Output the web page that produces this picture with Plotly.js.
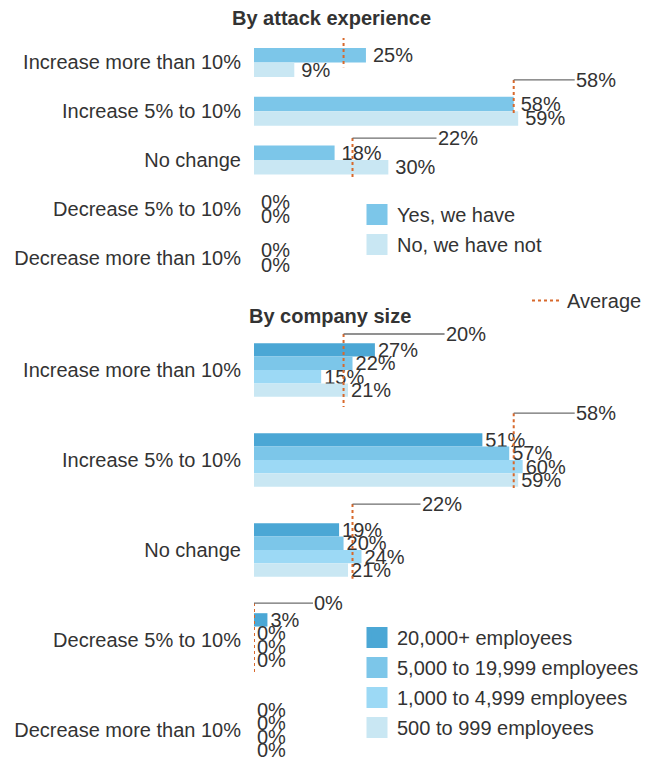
<!DOCTYPE html>
<html>
<head>
<meta charset="utf-8">
<script src="https://cdn.plot.ly/plotly-3.0.1.min.js"></script>
<style>html,body{margin:0;padding:0;background:#fff;}#chart{width:657px;height:762px;}</style>
</head>
<body>
<div id="chart"></div>
<script>
// ---------- DATA ----------
const categories = ["Increase more than 10%", "Increase 5% to 10%", "No change", "Decrease 5% to 10%", "Decrease more than 10%"];

// Panel 1: by attack experience
const attackNames = ["Yes, we have", "No, we have not"];
const yesValues = [25, 58, 18, 0, 0];
const noValues  = [9, 59, 30, 0, 0];
const attackAverage = [20, 58, 22, null, null];

// Panel 2: by company size
const sizeNames = ["20,000+ employees", "5,000 to 19,999 employees", "1,000 to 4,999 employees", "500 to 999 employees"];
const size20000 = [27, 51, 19, 3, 0];
const size5000  = [22, 57, 20, 0, 0];
const size1000  = [15, 60, 24, 0, 0];
const size500   = [21, 59, 21, 0, 0];
const sizeAverage = [20, 58, 22, 0, null];

const panelTitles = ["By attack experience", "By company size"];
const averageName = "Average";

// ---------- STYLE ----------
const FONT = "Liberation Sans, Arial, sans-serif";
const TXT = "#333333";
const attackColors = ["#7cc6e9", "#c9e7f3"];
const sizeColors = ["#4ba7d5", "#7cc6e9", "#9cd9f5", "#c9e7f3"];
const avgColor = "#d8692c";
const connColor = "#6e6e6e";
// connector geometry (in category units / pixels), per category
const topConnDy = [-0.52, -0.64, -0.45];
const topLineEnd = [0.10, 0.08, 0.37];
const topConnLen = [93, 61, 84];
const botConnDy = [-0.40, -0.52, -0.51, -0.41];
const botLineEnd = [0.41, 0.31, 0.32, 0.39];
const botConnLen = [101, 61, 68, 59];

const idx = categories.map((_, i) => i);
const traces = [];

function barTrace(name, vals, color, xa, ya, tmpl) {
  return {
    type: "bar", orientation: "h", name: name,
    x: vals, y: idx, xaxis: xa, yaxis: ya,
    marker: {color: color, line: {width: 0}},
    texttemplate: tmpl, textposition: "outside", constraintext: "none",
    textfont: {family: FONT, size: 20, color: TXT},
    cliponaxis: false, showlegend: false, hoverinfo: "x+y"
  };
}
function legendSwatch(name, color, legend, k) {
  return {
    type: "scatter", mode: "markers", name: name, x: [null], y: [null],
    marker: {symbol: "square", size: 16, color: color, line: {color: color, width: 5}},
    legend: legend, legendgroup: legend + "_" + k, showlegend: true, hoverinfo: "skip"
  };
}
function avgTrace(avgs, dyTop, dyBot, xa, ya, show) {
  const xs = [], ys = [];
  avgs.forEach((v, i) => {
    if (v === null) return;
    xs.push(v, v, null);
    ys.push(i + dyTop[i], i + dyBot[i], null);
  });
  return {
    type: "scatter", mode: "lines", name: averageName, x: xs, y: ys,
    xaxis: xa, yaxis: ya, line: {color: avgColor, width: 2, dash: "dot"},
    cliponaxis: false, showlegend: show, legend: "legend3", hoverinfo: "skip"
  };
}

const topTmpl = "\u2009%{x}%";
const botTmpl = "%{x}%";
traces.push(barTrace(attackNames[0], yesValues, attackColors[0], "x", "y", topTmpl));
traces.push(barTrace(attackNames[1], noValues, attackColors[1], "x", "y", topTmpl));
[size20000, size5000, size1000, size500].forEach((vals, k) => {
  traces.push(barTrace(sizeNames[k], vals, sizeColors[k], "x2", "y2", botTmpl));
});
traces.push(avgTrace(attackAverage, topConnDy, topLineEnd, "x", "y", true));
traces.push(avgTrace(sizeAverage, botConnDy, botLineEnd, "x2", "y2", false));
attackNames.forEach((n, k) => traces.push(legendSwatch(n, attackColors[k], "legend", k)));
sizeNames.forEach((n, k) => traces.push(legendSwatch(n, sizeColors[k], "legend2", k)));

const annotations = [];
function connectors(avgs, dy, lens, xr, yr) {
  avgs.forEach((v, i) => {
    if (v === null) return;
    annotations.push({
      x: v, y: i + dy[i], xref: xr, yref: yr, text: v + "%",
      showarrow: true, arrowhead: 0, arrowwidth: 1.3, arrowcolor: connColor,
      ax: lens[i], ay: 0, xanchor: "left", yanchor: "middle",
      font: {family: FONT, size: 20, color: TXT}, borderpad: 0
    });
  });
}
connectors(attackAverage, topConnDy, topConnLen, "x", "y");
connectors(sizeAverage, botConnDy, botConnLen, "x2", "y2");

const W = 657, H = 762, L = 254;
function px2paperX(p) { return (p - L) / (W - L); }
function px2paperY(p) { return 1 - p / H; }
annotations.push({text: "<b>" + panelTitles[0] + "</b>", xref: "paper", yref: "paper",
  x: px2paperX(331), y: px2paperY(18), showarrow: false, xanchor: "center", yanchor: "middle",
  font: {family: FONT, size: 20, color: TXT}});
annotations.push({text: "<b>" + panelTitles[1] + "</b>", xref: "paper", yref: "paper",
  x: px2paperX(330), y: px2paperY(316), showarrow: false, xanchor: "center", yanchor: "middle",
  font: {family: FONT, size: 20, color: TXT}});

const yCommon = {
  tickvals: idx, ticktext: categories, ticks: "outside", ticklen: 8, tickcolor: "rgba(0,0,0,0)",
  showgrid: false, zeroline: false, showline: false,
  tickfont: {family: FONT, size: 20, color: TXT}, fixedrange: true
};
const xCommon = {range: [0, 90], showgrid: false, zeroline: false, showline: false,
  showticklabels: false, ticks: "", domain: [0, 1], fixedrange: true};

const legendCommon = {font: {family: FONT, size: 20, color: TXT}, bgcolor: "rgba(0,0,0,0)",
  xanchor: "left", yanchor: "top", borderwidth: 0, tracegroupgap: 1};

const layout = {
  width: W, height: H,
  margin: {l: L, r: 0, t: 0, b: 0},
  paper_bgcolor: "#ffffff", plot_bgcolor: "#ffffff",
  font: {family: FONT, size: 20, color: TXT},
  barmode: "group", bargap: 0.405, bargroupgap: 0,
  xaxis: Object.assign({}, xCommon, {anchor: "y"}),
  xaxis2: Object.assign({}, xCommon, {anchor: "y2"}),
  yaxis: Object.assign({}, yCommon, {domain: [px2paperY(282), px2paperY(38)], range: [4.5, -0.5], anchor: "x"}),
  yaxis2: Object.assign({}, yCommon, {domain: [0, px2paperY(325)], range: [4.356, -0.5], anchor: "x2"}),
  legend: Object.assign({}, legendCommon, {x: px2paperX(357), y: px2paperY(195)}),
  legend2: Object.assign({}, legendCommon, {x: px2paperX(357), y: px2paperY(618)}),
  legend3: Object.assign({}, legendCommon, {x: px2paperX(527), y: px2paperY(281)}),
  annotations: annotations,
  showlegend: true
};

Plotly.newPlot("chart", traces, layout, {displayModeBar: false, staticPlot: true});
</script>
</body>
</html>
